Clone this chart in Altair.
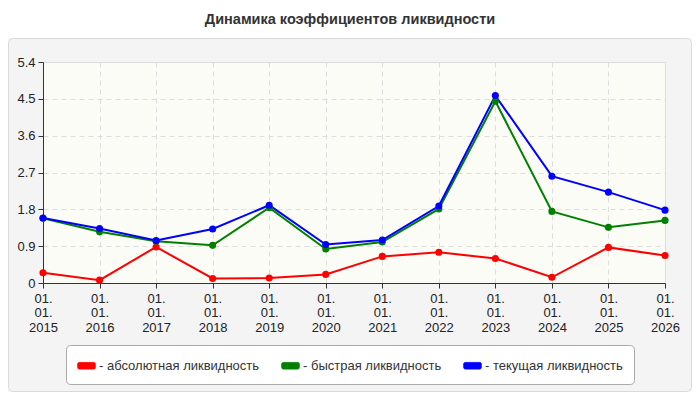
import altair as alt
import pandas as pd

# Data
years = [2015, 2016, 2017, 2018, 2019, 2020, 2021, 2022, 2023, 2024, 2025, 2026]
absolute_liq = [0.25, 0.07, 0.88, 0.11, 0.12, 0.21, 0.65, 0.75, 0.60, 0.14, 0.87, 0.67]
quick_liq = [1.58, 1.25, 1.02, 0.92, 1.84, 0.83, 1.00, 1.81, 4.44, 1.75, 1.36, 1.53]
current_liq = [1.59, 1.33, 1.04, 1.32, 1.90, 0.94, 1.05, 1.88, 4.58, 2.61, 2.22, 1.78]

series_names = ["- абсолютная ликвидность", "- быстрая ликвидность", "- текущая ликвидность"]
series_colors = ["#ff0000", "#008000", "#0000ff"]
y_ticks = [0, 0.9, 1.8, 2.7, 3.6, 4.5, 5.4]
title_text = "Динамика коэффициентов ликвидности"

FONT = "Liberation Sans"
W, H = 622, 221

rows = []
for name, vals in zip(series_names, [absolute_liq, quick_liq, current_liq]):
    for yr, v in zip(years, vals):
        rows.append({"year": yr, "value": v, "series": name})
df = pd.DataFrame(rows)

one = pd.DataFrame({"t": [title_text]})

# white strip above the grey panel
top_strip = alt.Chart(one).mark_rect(fill="white").encode(
    x=alt.value(-35), x2=alt.value(650), y=alt.value(-54), y2=alt.value(-24)
)
# panel border
panel = alt.Chart(one).mark_rect(
    fill="transparent", stroke="#dadada", strokeWidth=1, cornerRadius=5
).encode(
    x=alt.value(-34.5), x2=alt.value(648.5), y=alt.value(-23.5), y2=alt.value(329.5)
)
title = alt.Chart(one).mark_text(
    font=FONT, fontSize=14.5, fontWeight="bold", color="#333333", baseline="middle"
).encode(x=alt.value(307), y=alt.value(-42), text="t:N")

# rounded rectangle legend swatch (custom paths span -1..1)
swatch = (
    "M-0.8,-0.38H0.8A0.2,0.2 0 0 1 1,-0.18V0.18A0.2,0.2 0 0 1 0.8,0.38"
    "H-0.8A0.2,0.2 0 0 1 -1,0.18V-0.18A0.2,0.2 0 0 1 -0.8,-0.38Z"
)

scale = alt.Scale(domain=series_names, range=series_colors)
legend = alt.Legend(
    title=None,
    orient="none",
    legendX=23,
    legendY=283,
    direction="horizontal",
    columns=3,
    columnPadding=20,
    fillColor="white",
    strokeColor="#aaaaaa",
    cornerRadius=4,
    padding=11,
    symbolType=swatch,
    symbolSize=324,
    symbolStrokeWidth=0.5,
    symbolOpacity=1,
    labelFont=FONT,
    labelFontSize=13,
    labelColor="#333333",
    labelOffset=3,
    labelLimit=300,
)
color = alt.Color("series:N", scale=scale, legend=legend)

x = alt.X(
    "year:Q",
    title=None,
    scale=alt.Scale(domain=[2015, 2026], nice=False, zero=False),
    axis=alt.Axis(
        values=years,
        format="d",
        labelExpr="['01.', '01.', datum.label]",
        labelLineHeight=14.5,
        labelPadding=4,
        labelFlush=False,
        labelOverlap=False,
        gridDash=[5, 4],
    ),
)
y = alt.Y(
    "value:Q",
    title=None,
    scale=alt.Scale(domain=[0, 5.4], nice=False),
    axis=alt.Axis(values=y_ticks, format=".1~f", gridDash=[5, 4], labelPadding=3),
)

lines = alt.Chart(df).mark_line(strokeWidth=2).encode(x=x, y=y, color=color, order="year:Q")
points = alt.Chart(df).mark_circle(opacity=1).encode(x=x, y=y, color=color)

chart = (
    alt.layer(top_strip, panel, title, lines, points)
    .properties(
        width=W,
        height=H,
        autosize=alt.AutoSizeParams(type="none"),
        padding={"left": 35, "top": 54, "right": 27, "bottom": 109},
        background="#f4f4f4",
    )
    .configure_view(fill="#fcfcf7", stroke="#dddddd")
    .configure_circle(size=50)
    .configure_axis(
        labelFont=FONT,
        labelFontSize=13,
        labelColor="#222222",
        domainColor="#333333",
        tickColor="#333333",
        tickSize=5,
        gridColor="#dddddd",
    )
)

chart.save("out.html", embed_options={"renderer": "svg", "actions": False})
